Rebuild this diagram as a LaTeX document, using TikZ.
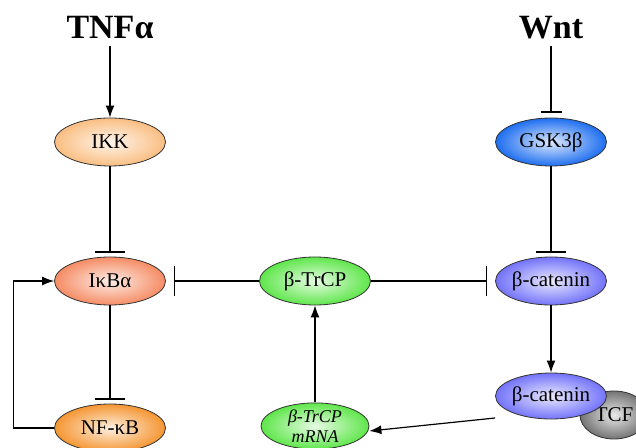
\documentclass[tikz,border=0pt]{standalone}
\usepackage{fontspec}
\setmainfont{Liberation Serif}
\usetikzlibrary{shapes.geometric,arrows.meta,positioning}
\definecolor{ikkpeach}{RGB}{250,190,130}
\definecolor{ikbsalmon}{RGB}{245,140,100}
\definecolor{nfkborange}{RGB}{245,150,50}
\definecolor{trcpgreen}{RGB}{95,230,75}
\definecolor{gskblue}{RGB}{30,110,240}
\definecolor{catblue}{RGB}{115,115,250}
\definecolor{tcfgray}{RGB}{115,115,115}

\begin{document}
\begin{tikzpicture}[x=0.5pt,y=-0.5pt,
    mol/.style={ellipse,draw=black!80,line width=0.4pt,minimum width=55.5pt,
                minimum height=24pt,inner sep=0pt,
                inner color=#1!15!white,outer color=#1,
                font=\fontsize{10.5}{12}\selectfont},
    signal/.style={font=\fontsize{17}{20}\selectfont\bfseries},
    arrow/.style={-{Latex[length=6pt,width=4.5pt]},line width=0.6pt},
    inhibit/.style={-{Bar[width=15pt]},line width=0.6pt,shorten >=2pt}]
    \clip (0,0) rectangle (636,448);
    \node[signal] (tnf) at (110,28) {TNFα};
    \node[signal] (wnt) at (551,28) {Wnt};
    \node[mol=ikkpeach] (ikk) at (110,142) {IKK};
    \node[mol=ikbsalmon] (ikba) at (110,281) {IκBα};
    \node[mol=nfkborange] (nfkb) at (110,428) {NF-κB};
    \node[mol=trcpgreen] (btrcp) at (315,281) {β-TrCP};
    \node[mol=trcpgreen,font=\fontsize{9}{10}\selectfont\itshape,align=center,
          minimum width=54pt,minimum height=23pt] (mrna) at (315,426) {β-TrCP\\mRNA};
    \node[mol=gskblue] (gsk) at (551,142) {GSK3β};
    \node[mol=catblue] (bcat) at (551,281) {β-catenin};
    \node[mol=tcfgray,minimum width=34pt] (tcf) at (614,415) {TCF};
    \node[mol=catblue,minimum height=23pt] (bcattcf) at (551,396) {β-catenin};
    \draw[arrow] (tnf) -- (ikk);
    \draw[inhibit,-{Bar[width=10.5pt]},shorten >=2.5pt] (wnt) -- (gsk);
    \draw[inhibit] (ikk) -- (ikba);
    \draw[inhibit] (ikba) -- (nfkb);
    \draw[arrow] (nfkb.west) -- ++(-41,0) |- (ikba.west);
    \draw[inhibit,shorten >=4pt] (btrcp) -- (ikba);
    \draw[inhibit,shorten >=4pt] (btrcp) -- (bcat);
    \draw[inhibit] (gsk) -- (bcat);
    \draw[arrow] (bcat) -- (bcattcf);
    \draw[arrow] (mrna) -- (btrcp);
    \draw[arrow] ([yshift=-11pt]bcattcf.west) -- ([yshift=-2.5pt]mrna.east);
  \end{tikzpicture}
\end{document}
